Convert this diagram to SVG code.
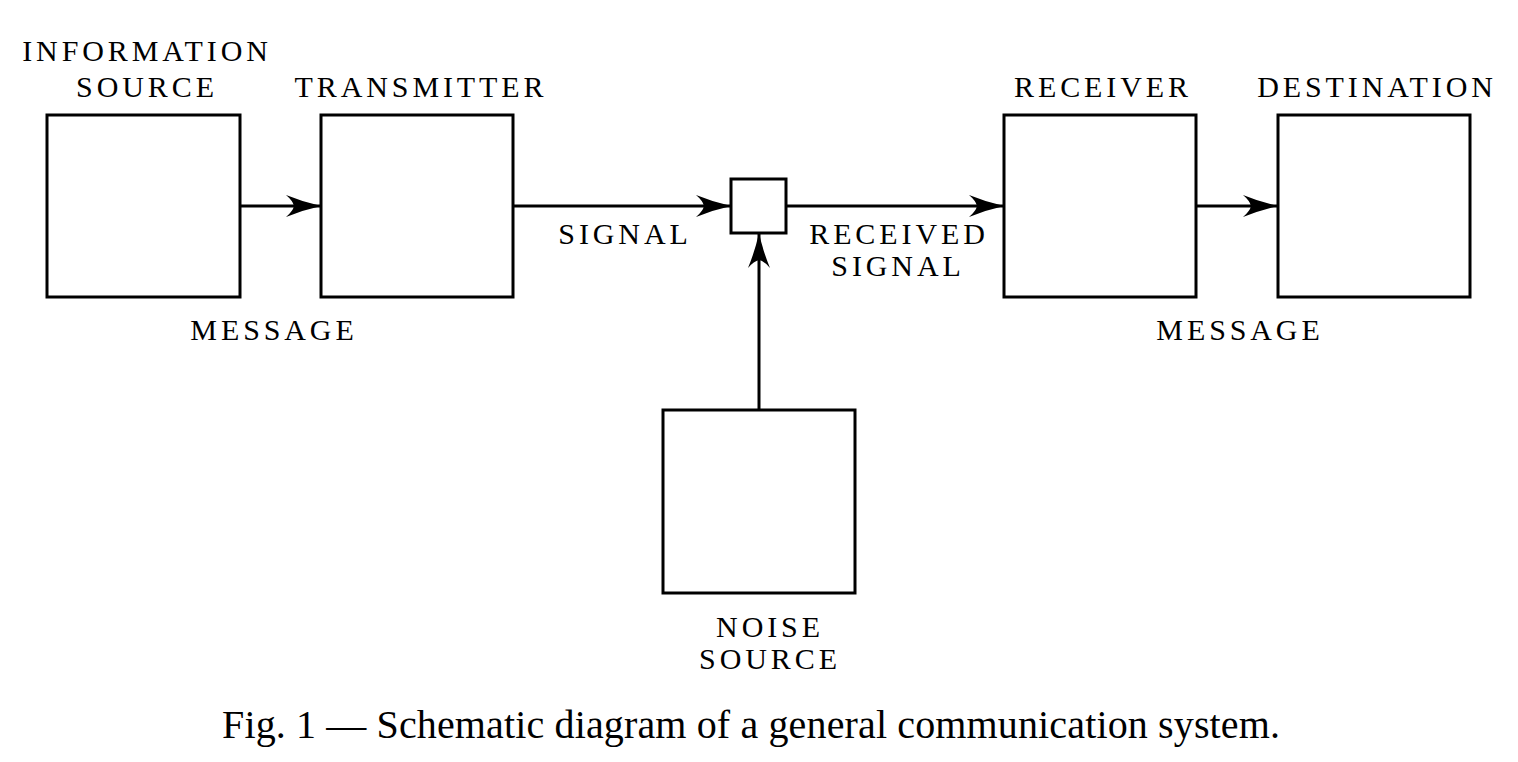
<svg xmlns="http://www.w3.org/2000/svg" width="1518" height="762" viewBox="0 0 1518 762">
<style>
.box{fill:#fff;stroke:#000;stroke-width:3}
.ln{fill:none;stroke:#000;stroke-width:3}
.lb{font-family:"Liberation Serif","Times New Roman",serif;font-size:30px;letter-spacing:3.9px;text-anchor:middle;fill:#000}
.cap{font-family:"Liberation Serif","Times New Roman",serif;font-size:40px;text-anchor:middle;fill:#000}
</style>
<defs>
<marker id="ah" markerUnits="userSpaceOnUse" markerWidth="40" markerHeight="26" viewBox="-37 -13 40 26" refX="0" refY="0" orient="auto" overflow="visible">
<path d="M0,0 Q-18,-4 -35,-11 Q-28,-5 -27,0 Q-28,5 -35,11 Q-18,4 0,0 Z" fill="#000"/>
</marker>
</defs>
<rect width="1518" height="762" fill="#fff"/>
<g id="connectors">
<path class="ln" d="M240,206 H321" marker-end="url(#ah)"/>
<path class="ln" d="M513,206 H731" marker-end="url(#ah)"/>
<path class="ln" d="M786,206 H1004" marker-end="url(#ah)"/>
<path class="ln" d="M1196,206 H1278" marker-end="url(#ah)"/>
<path class="ln" d="M759,410 V233" marker-end="url(#ah)"/>
</g>
<g id="information-source">
<rect class="box" x="47" y="115" width="193" height="182"/>
<text class="lb" x="147" y="61">INFORMATION</text>
<text class="lb" x="147" y="97">SOURCE</text>
</g>
<g id="transmitter">
<rect class="box" x="321" y="115" width="192" height="182"/>
<text class="lb" x="421" y="97">TRANSMITTER</text>
</g>
<g id="message-left">
<text class="lb" x="274" y="340">MESSAGE</text>
</g>
<g id="signal-label">
<text class="lb" x="625" y="244">SIGNAL</text>
</g>
<g id="noise-junction">
<rect class="box" x="731" y="179" width="55" height="54"/>
</g>
<g id="received-signal-label">
<text class="lb" x="899" y="244">RECEIVED</text>
<text class="lb" x="898" y="276">SIGNAL</text>
</g>
<g id="receiver">
<rect class="box" x="1004" y="115" width="192" height="182"/>
<text class="lb" x="1103" y="97">RECEIVER</text>
</g>
<g id="destination">
<rect class="box" x="1278" y="115" width="192" height="182"/>
<text class="lb" x="1377" y="97">DESTINATION</text>
</g>
<g id="message-right">
<text class="lb" x="1240" y="340">MESSAGE</text>
</g>
<g id="noise-source">
<rect class="box" x="663" y="410" width="192" height="183"/>
<text class="lb" x="770" y="637">NOISE</text>
<text class="lb" x="770" y="669">SOURCE</text>
</g>
<text class="cap" x="751" y="738" textLength="1058" lengthAdjust="spacing">Fig. 1 — Schematic diagram of a general communication system.</text>
</svg>
